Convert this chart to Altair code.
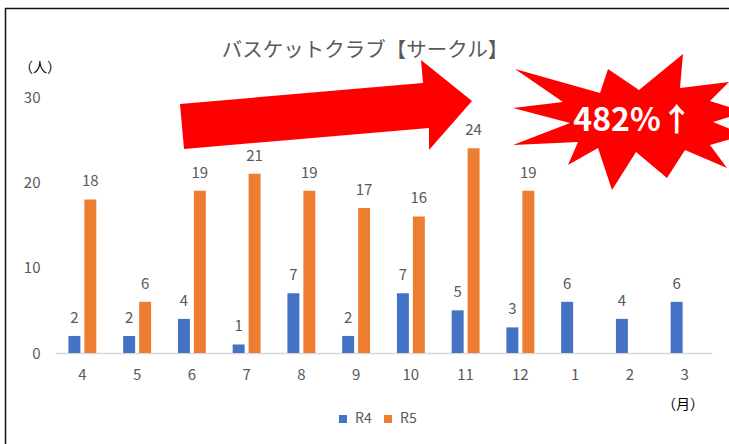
import altair as alt
import pandas as pd

# ---------------- data ----------------
months = ["4", "5", "6", "7", "8", "9", "10", "11", "12", "1", "2", "3"]
r4 = [2, 2, 4, 1, 7, 2, 7, 5, 3, 6, 4, 6]
r5 = [18, 6, 19, 21, 19, 17, 16, 24, 19, None, None, None]
series = ["R4", "R5"]
colors = ["#4472C4", "#ED7D31"]
y_ticks = [0, 10, 20, 30]
title_text = "バスケットクラブ【サークル】"
y_unit = "（人）"
x_unit = "（月）"
burst_text = "482%↑"

rows = []
for m, a, b in zip(months, r4, r5):
    rows.append({"month": m, "series": "R4", "value": a})
    if b is not None:
        rows.append({"month": m, "series": "R5", "value": b})
df = pd.DataFrame(rows)

# ---------------- style ----------------
W, H = 657, 256
PAD = {"left": 55, "top": 97, "right": 17, "bottom": 91}
FONT = "Noto Sans CJK JP"
GRAY = "#595959"

# decorative shapes (unit = 100 px, centred on the anchor point)
ARROW = ("M -1.46 -0.01 L 0.97 -0.22 L 0.95 -0.45 L 1.46 -0.04 "
         "L 1.03 0.45 L 1.03 0.23 L -1.42 0.44 Z")
BURST = ("M -1.05 -0.51 L -0.20 -0.27 L -0.12 -0.51 L 0.19 -0.30 L 0.63 -0.66 "
         "L 0.60 -0.32 L 1.09 -0.38 L 0.90 -0.19 L 1.25 -0.08 L 0.93 0.02 "
         "L 1.25 0.15 L 0.90 0.25 L 1.07 0.48 L 0.65 0.30 L 0.47 0.58 "
         "L 0.16 0.32 L -0.08 0.70 L -0.22 0.28 L -0.52 0.45 L -0.42 0.22 "
         "L -1.07 0.25 L -0.50 0.03 L -1.07 -0.12 L -0.57 -0.18 Z")

x = alt.X("month:N", sort=months, title=None,
          scale=alt.Scale(paddingInner=0.49, paddingOuter=0.245),
          axis=alt.Axis(labelAngle=0, domainColor="#D9D9D9", domainWidth=1.5,
                        ticks=False, grid=False, labelPadding=14, labelFontSize=15,
                        labelColor=GRAY, labelFont=FONT))
xo = alt.XOffset("series:N", sort=series,
                 scale=alt.Scale(paddingInner=0.25, paddingOuter=0))
y = alt.Y("value:Q", title=None, scale=alt.Scale(domain=[0, 30], nice=False),
          axis=alt.Axis(values=y_ticks, domain=False, ticks=False, grid=False,
                        labelPadding=15, labelFontSize=15, labelColor=GRAY,
                        labelFont=FONT))

bars = alt.Chart(df).mark_bar().encode(
    x=x, xOffset=xo, y=y,
    color=alt.Color("series:N", sort=series,
                    scale=alt.Scale(domain=series, range=colors),
                    legend=alt.Legend(title=None, orient="none", legendX=281,
                                      legendY=315, direction="horizontal",
                                      symbolType="square", symbolSize=64,
                                      symbolStrokeWidth=0, labelFontSize=14,
                                      labelColor=GRAY, labelFont=FONT,
                                      columnPadding=9, labelOffset=5,
                                      padding=0)),
)

labels = alt.Chart(df).mark_text(dy=-18, fontSize=15, color=GRAY, font=FONT).encode(
    x=x, xOffset=xo, y=y, text="value:Q"
)

border = alt.Chart(pd.DataFrame({"k": [0]})).mark_rect(
    fillOpacity=0, stroke="#111111", strokeWidth=1.5
).encode(x=alt.value(-49.5), y=alt.value(-88.5), x2=alt.value(900), y2=alt.value(700))

def text_layer(txt, px, py, **kw):
    return alt.Chart(pd.DataFrame({"t": [txt]})).mark_text(font=FONT, **kw).encode(
        x=alt.value(px), y=alt.value(py), text="t:N")

title = text_layer(title_text, 310, -46, fontSize=20.5, color=GRAY)
yunit = text_layer(y_unit, -15, -29, fontSize=14, color="#000000")
xunit = text_layer(x_unit, 628, 308, fontSize=14, color="#000000")

arrow = alt.Chart(pd.DataFrame({"k": ["arrow"]})).mark_point(
    shape=ARROW, filled=True, color="#FF0000", opacity=1, strokeWidth=0, size=40000
).encode(x=alt.value(271), y=alt.value(8))

burst = alt.Chart(pd.DataFrame({"k": ["burst"]})).mark_point(
    shape=BURST, filled=True, color="#FF0000", opacity=1, strokeWidth=0, size=40000
).encode(x=alt.value(565), y=alt.value(23))

burst_lbl = text_layer(burst_text, 578, 24, fontSize=32, fontWeight="bold",
                       color="#FFFFFF")

chart = alt.layer(
    border, bars, labels, title, yunit, xunit, arrow, burst, burst_lbl
).properties(
    width=W, height=H,
    autosize=alt.AutoSizeParams(type="none"),
    padding=PAD,
    background="#FFFFFF",
).configure_view(stroke=None)

chart.save("out.html", embed_options={"renderer": "svg", "actions": False})
